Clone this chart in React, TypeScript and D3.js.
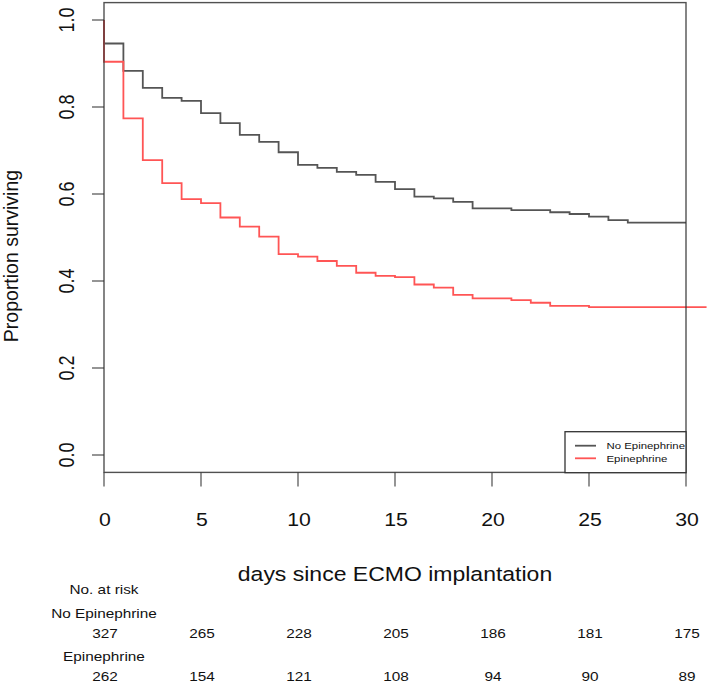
import React from "react";
import * as d3 from "d3";

const noEpiTimes = [0, 0, 1, 2, 3, 4, 5, 6, 7, 8, 9, 10, 11, 12, 13, 14, 15, 16, 17, 18, 19, 21, 23, 24, 25, 26, 27, 30];
const noEpiSurv = [1, 0.946, 0.883, 0.844, 0.821, 0.814, 0.786, 0.763, 0.736, 0.72, 0.696, 0.667, 0.66, 0.651, 0.644, 0.628, 0.611, 0.594, 0.59, 0.582, 0.567, 0.563, 0.558, 0.554, 0.548, 0.54, 0.534, 0.534];

const epiTimes = [0, 0, 1, 2, 3, 4, 5, 6, 7, 8, 9, 10, 11, 12, 13, 14, 15, 16, 17, 18, 19, 21, 22, 23, 25, 31.06];
const epiSurv = [1, 0.904, 0.774, 0.678, 0.625, 0.588, 0.579, 0.546, 0.525, 0.502, 0.462, 0.456, 0.446, 0.435, 0.419, 0.412, 0.409, 0.392, 0.385, 0.368, 0.36, 0.356, 0.35, 0.343, 0.34, 0.34];

const xTicks = [0, 5, 10, 15, 20, 25, 30];
const yTicks = [0, 0.2, 0.4, 0.6, 0.8, 1.0];
const riskTimes = [0, 5, 10, 15, 20, 25, 30];
const riskNoEpi = [327, 265, 228, 205, 186, 181, 175];
const riskEpi = [262, 154, 121, 108, 94, 90, 89];
const groupNames = ["No Epinephrine", "Epinephrine"];

const W = 709;
const H = 683;
const FONT = "'Liberation Sans', Arial, Helvetica, sans-serif";
const AX = "#333";
const BLACK = "#555";
const RED = "#ff5555";

const x = d3.scaleLinear().domain([0, 30]).range([104, 686]);
const y = d3.scaleLinear().domain([0, 1]).range([455, 20]);
const yTop = y(1.04);
const yBot = y(-0.04);

type Pt = [number, number];
const line = d3
  .line<Pt>()
  .x((d) => x(d[0]))
  .y((d) => y(d[1]))
  .curve(d3.curveStepAfter);

const SX = 1.18;

function T({ x: tx, y: ty, size, children, rotate = 0, anchor = "middle", sx = SX }: any) {
  const tr = `translate(${tx},${ty}) scale(${sx},1)` + (rotate ? ` rotate(${rotate})` : "");
  return (
    <text transform={tr} fontSize={size} fontFamily={FONT} textAnchor={anchor} fill="#111">
      {children}
    </text>
  );
}

export default function App() {
  const blackPts: Pt[] = noEpiTimes.map((t, i) => [t, noEpiSurv[i]]);
  const redPts: Pt[] = epiTimes.map((t, i) => [t, epiSurv[i]]);
  const fmt = d3.format(".1f");
  return (
    <svg
      width={W}
      height={H}
      style={{ position: "absolute", left: 0, top: 0, background: "#fff" }}
    >
      <rect x={0} y={0} width={W} height={H} fill="#fff" />
      {/* curves */}
      <path d={line(blackPts) || ""} fill="none" stroke={BLACK} strokeWidth={1.8} />
      <path d={line(redPts) || ""} fill="none" stroke={RED} strokeWidth={1.8} />
      {/* box */}
      <rect
        x={x(0)}
        y={yTop}
        width={x(30) - x(0)}
        height={yBot - yTop}
        fill="none"
        stroke={AX}
        strokeWidth={1.4}
        opacity={0.85}
      />
      {/* x axis ticks */}
      {xTicks.map((t) => (
        <g key={"xt" + t}>
          <line x1={x(t)} x2={x(t)} y1={yBot} y2={yBot + 14} stroke={AX} strokeWidth={1.3} opacity={0.8} />
          <T x={x(t) + 1} y={520 + 0.358 * 18} size={18}>
            {t}
          </T>
        </g>
      ))}
      {/* y axis ticks */}
      {yTicks.map((v) => (
        <g key={"yt" + v}>
          <line x1={x(0) - 12} x2={x(0)} y1={y(v)} y2={y(v)} stroke={AX} strokeWidth={1.3} opacity={0.8} />
          <T x={66 + 0.358 * 18 * SX} y={y(v)} size={18} rotate={-90}>
            {fmt(v)}
          </T>
        </g>
      ))}
      {/* axis titles */}
      <T x={395} y={581} size={19.5}>
        days since ECMO implantation
      </T>
      <T x={18} y={256} size={19.5} rotate={-90} sx={1.05}>
        Proportion surviving
      </T>
      {/* legend */}
      <rect x={565} y={431.7} width={121} height={41} fill="#fff" stroke={AX} strokeWidth={1.3} />
      <line x1={575} x2={596} y1={445.7} y2={445.7} stroke={BLACK} strokeWidth={1.8} />
      <line x1={575} x2={596} y1={458.3} y2={458.3} stroke={RED} strokeWidth={1.8} />
      <T x={606.5} y={446 + 3.4} size={9.5} anchor="start" sx={1.2}>
        {groupNames[0]}
      </T>
      <T x={606.5} y={458.5 + 3.4} size={9.5} anchor="start" sx={1.2}>
        {groupNames[1]}
      </T>
      {/* numbers at risk */}
      <T x={104} y={589 + 4.7} size={13}>
        No. at risk
      </T>
      <T x={104} y={613 + 4.7} size={13}>
        {groupNames[0]}
      </T>
      {riskTimes.map((t, i) => (
        <T key={"rn" + t} x={x(t) + 1} y={633 + 4.7} size={13}>
          {riskNoEpi[i]}
        </T>
      ))}
      <T x={104} y={656 + 4.7} size={13}>
        {groupNames[1]}
      </T>
      {riskTimes.map((t, i) => (
        <T key={"re" + t} x={x(t) + 1} y={676.5 + 4.7} size={13}>
          {riskEpi[i]}
        </T>
      ))}
    </svg>
  );
}
